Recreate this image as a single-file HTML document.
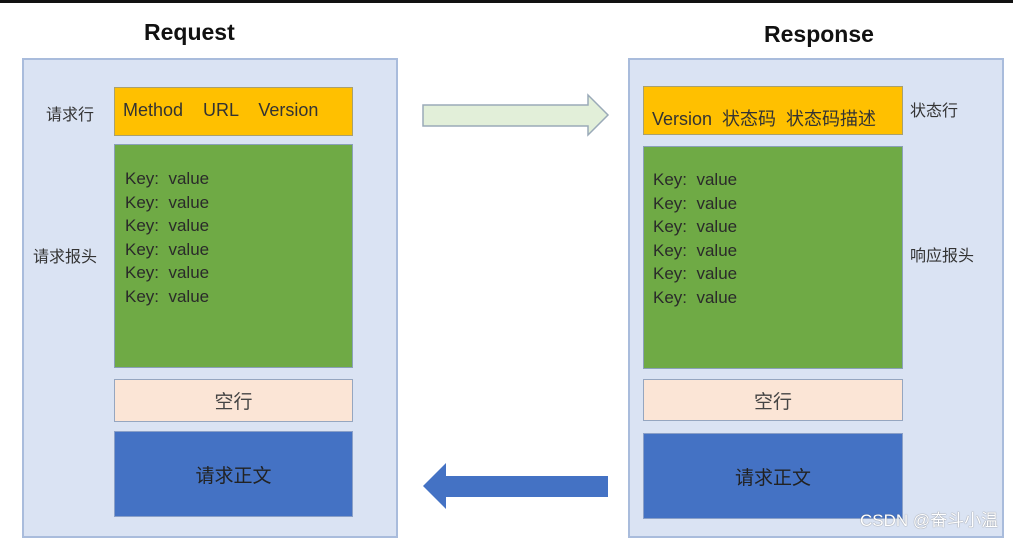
<!DOCTYPE html>
<html><head><meta charset="utf-8"><style>
body{margin:0;width:1013px;height:534px;background:#fff;position:relative;overflow:hidden;font-family:"Liberation Sans","Noto Sans CJK SC",sans-serif;}
div{position:absolute;box-sizing:border-box}
.c{background:#dae3f3;border:2px solid #a9bcdc}
.o{background:#ffc000;border:1px solid #a8a070;color:#333;font-size:18px}
.g{background:#6faa45;border:1px solid #8aa0b8;color:#2a2a2a;font-size:17px;line-height:23.5px}
.p{background:#fbe5d6;border:1px solid #95a6c0;color:#444;font-size:19px;display:flex;align-items:center;justify-content:center}
.b{background:#4472c4;border:1px solid #8aa0c8;color:#222;font-size:19px;display:flex;align-items:center;justify-content:center}
.l{font-size:16px;color:#333}
.t{font-size:23px;font-weight:bold;color:#111}
</style></head><body>
<div style="left:0;top:0;width:1013px;height:3px;background:#111"></div>
<div class="t" style="left:144px;top:19px">Request</div>
<div class="t" style="left:764px;top:21px">Response</div>
<div class="c" style="left:22px;top:58px;width:376px;height:480px"></div>
<div class="c" style="left:628px;top:58px;width:376px;height:480px"></div>
<div class="o" style="left:114px;top:87px;width:239px;height:49px;padding:12px 0 0 8px;word-spacing:0">Method &nbsp;&nbsp;&nbsp;URL &nbsp;&nbsp;&nbsp;Version</div>
<div class="g" style="left:114px;top:144px;width:239px;height:224px;padding:22px 0 0 10px">Key: &nbsp;value<br>Key: &nbsp;value<br>Key: &nbsp;value<br>Key: &nbsp;value<br>Key: &nbsp;value<br>Key: &nbsp;value</div>
<div class="p" style="left:114px;top:379px;width:239px;height:43px">空行</div>
<div class="b" style="left:114px;top:431px;width:239px;height:86px">请求正文</div>
<div class="l" style="left:46px;top:101px">请求行</div>
<div class="l" style="left:33px;top:243px">请求报头</div>
<div class="o" style="left:643px;top:86px;width:260px;height:49px;padding:18px 0 0 8px">Version &nbsp;状态码 &nbsp;状态码描述</div>
<div class="g" style="left:643px;top:146px;width:260px;height:223px;padding:21px 0 0 9px">Key: &nbsp;value<br>Key: &nbsp;value<br>Key: &nbsp;value<br>Key: &nbsp;value<br>Key: &nbsp;value<br>Key: &nbsp;value</div>
<div class="p" style="left:643px;top:379px;width:260px;height:42px">空行</div>
<div class="b" style="left:643px;top:433px;width:260px;height:86px">请求正文</div>
<div class="l" style="left:910px;top:97px">状态行</div>
<div class="l" style="left:910px;top:242px">响应报头</div>
<svg style="position:absolute;left:0;top:0" width="1013" height="534">
<polygon points="423,105 588,105 588,95 608,115 588,135 588,126 423,126" fill="#e2efd9" stroke="#9aaab8" stroke-width="1.5"/>
<polygon points="608,476 446,476 446,463 423,486 446,509 446,497 608,497" fill="#4472c4"/>
</svg>
<div style="left:860px;top:506px;font-size:17px;color:#fff;text-shadow:0 0 1px #555">CSDN @奋斗小温</div>
</body></html>
